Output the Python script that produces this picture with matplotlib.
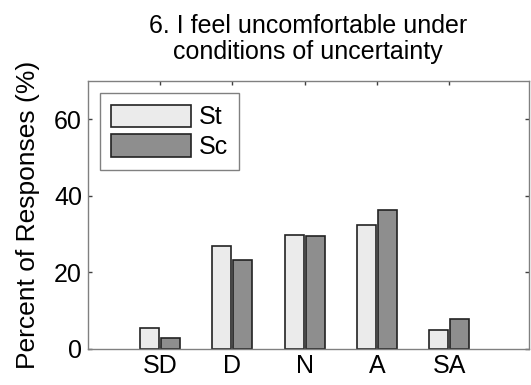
import numpy as np
import matplotlib.pyplot as plt

plt.rcParams['font.family'] = ['Liberation Sans', 'DejaVu Sans']

categories = ['SD', 'D', 'N', 'A', 'SA']
st_values = [5.5, 26.8, 29.8, 32.4, 4.8]
sc_values = [2.9, 23.1, 29.5, 36.3, 7.8]
series_names = ['St', 'Sc']

COLORS = {'St': '#ebebeb', 'Sc': '#8e8e8e'}

fig = plt.figure(figsize=(5.31, 3.85), dpi=100)
ax = fig.add_axes([0.165, 0.094, 0.831, 0.696])

x = np.arange(1, len(categories) + 1)
w = 0.26
off = 0.145
ax.bar(x - off, st_values, width=w, color=COLORS['St'], edgecolor='#222222',
       linewidth=1.2, label=series_names[0])
ax.bar(x + off, sc_values, width=w, color=COLORS['Sc'], edgecolor='#222222',
       linewidth=1.2, label=series_names[1])

ax.set_xlim(0.0, 6.1)
ax.set_ylim(0, 70)
ax.set_xticks(x)
ax.set_xticklabels(categories)
ax.set_yticks([0, 20, 40, 60])

for s in ax.spines.values():
    s.set_color('#808080')
    s.set_linewidth(1.0)
ax.tick_params(direction='in', top=True, right=True, length=3, width=1,
               color='#404040', labelsize=18, pad=4)

ax.set_ylabel('Percent of Responses (%)', fontsize=19, labelpad=10)
ax.set_title('6. I feel uncomfortable under\nconditions of uncertainty',
             fontsize=18, pad=16, linespacing=1.1)

leg = ax.legend(loc='upper left', fontsize=18, fancybox=False,
                edgecolor='#808080', framealpha=1, handlelength=3.2,
                handleheight=1.0, borderpad=0.45, labelspacing=0.2,
                handletextpad=0.3, borderaxespad=0.5)
leg.get_frame().set_linewidth(1.0)

fig.savefig('out.png', dpi=100)
